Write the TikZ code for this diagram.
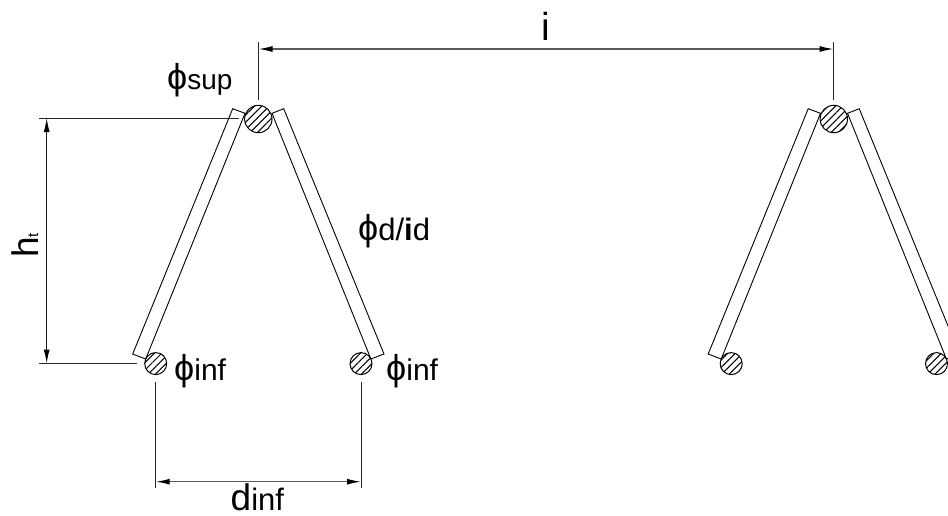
\documentclass[tikz,border=0pt]{standalone}
\usepackage{fontspec}
\setmainfont{Liberation Sans}
\usetikzlibrary{arrows.meta,patterns.meta}
\tikzset{
  x=1pt,y=-1pt,
  struct/.style={draw=black,line width=0.9pt,line join=miter},
  hatched/.style={circle,draw=black,line width=1pt,inner sep=0pt,pattern={Lines[angle=45,distance=5.2pt,line width=1.05pt]},pattern color=black},
  bigbar/.style={minimum size=27.4pt},
  smallbar/.style={minimum size=22pt},
  ext/.style={draw=black!85,line width=1pt},
  dim/.style={draw=black!65,line width=1.4pt,{Latex[length=14pt,width=6pt,black]}-{Latex[length=14pt,width=6pt,black]}},
  lab/.style={inner sep=0pt,anchor=base west,text=black},
}
\newcommand{\Phisym}{\fontsize{36}{36}\selectfont ϕ}
\newcommand{\txt}[1]{\fontsize{#1}{#1}\selectfont}
\begin{document}
\begin{tikzpicture}
\useasboundingbox (0,0) rectangle (948,515);
\foreach \dx/\n in {0/a,575.5/b}{
  \begin{scope}[xshift=\dx pt]
    \node[hatched,bigbar] (top\n) at (258.3,119) {};
    \node[hatched,smallbar] (l\n) at (155.7,363.6) {};
    \node[hatched,smallbar] (r\n) at (361,363.6) {};
    \draw[struct] (145.7,359) -- (132.7,354) -- (232.7,108.7) -- (245,113.3) -- cycle;
    \draw[struct] (370.9,359) -- (384,354) -- (283.7,108.7) -- (272,113.3) -- cycle;
  \end{scope}
}
\coordinate (i1t) at (258.5,42); \coordinate (i1b) at (258.5,100);
\coordinate (i2t) at (833.7,42); \coordinate (i2b) at (833.7,100);
\coordinate (i1) at (258.5,49); \coordinate (i2) at (833.7,49);
\draw[ext] (i1t) -- (i1b);
\draw[ext] (i2t) -- (i2b);
\draw[dim] (i1) -- (i2);
\coordinate (h1l) at (39,118); \coordinate (h1r) at (239,118);
\coordinate (h2l) at (39,363.5); \coordinate (h2r) at (137,363.5);
\coordinate (h1) at (46.7,118); \coordinate (h2) at (46.7,363.5);
\draw[ext] (h1l) -- (h1r);
\draw[ext] (h2l) -- (h2r);
\draw[dim,draw=black!90,line width=1.1pt] (h1) -- (h2);
\coordinate (d1t) at (155.7,382); \coordinate (d1b) at (155.7,488);
\coordinate (d2t) at (361,382); \coordinate (d2b) at (361,488);
\coordinate (d1) at (155.7,481.7); \coordinate (d2) at (361,481.7);
\draw[ext] (d1t) -- (d1b);
\draw[ext] (d2t) -- (d2b);
\draw[dim] (d1) -- (d2);
\node[lab] (ti) at (541.3,40) {\txt{39}i};
\node[lab] (tsup) at (167,89) {\Phisym\txt{28}sup};
\node[lab] (tdi) at (358,240) {\Phisym\txt{31}d/{\bfseries i}d};
\node[lab] (tinf1) at (174,380.5) {\Phisym\txt{30}inf};
\node[lab] (tinf2) at (386,380.5) {\Phisym\txt{30}inf};
\node[lab] (tdinf) at (230.5,510) {\txt{37}d\txt{31}inf};
\node[lab,rotate=90] (th) at (38,258) {\txt{37}h\txt{15}t};
\end{tikzpicture}
\end{document}
